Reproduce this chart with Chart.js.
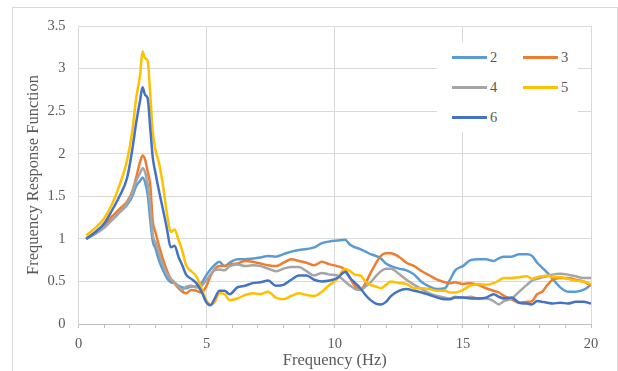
<!DOCTYPE html>
<html>
<head>
<meta charset="utf-8">
<script src="https://cdn.jsdelivr.net/npm/chart.js@4.4.1/dist/chart.umd.min.js"></script>
<style>
    body { margin: 0; background: #fff; }
    #wrap { position: relative; width: 618px; height: 371px; overflow: hidden; }
    #frame { position: absolute; left: 12px; top: 7px; width: 604px; height: 380px; border: 1px solid #d9d9d9; }
    #frfChart { position: absolute; left: 0; top: 0; }
    #legend {
        position: absolute; left: 437px; top: 42px; width: 141px; height: 90px;
        background: #fff; padding-left: 15px; box-sizing: border-box;
        display: grid; grid-template-columns: 71px 55px; grid-auto-rows: 30px;
        font-family: "Liberation Serif", serif; font-size: 14.5px; color: #595959;
    }
    .item { display: flex; align-items: center; }
    .swatch { width: 35px; height: 3px; margin-right: 3px; }
</style>
</head>
<body>
<div id="wrap">
    <div id="frame"></div>
    <canvas id="frfChart" width="618" height="371"></canvas>
    <div id="legend"></div>
</div>
<script>
// frequency (Hz) shared by all series
const freq = [
    0.3, 0.7, 1.0, 1.3, 1.6, 1.9, 2.1, 2.25, 2.4, 2.5,
    2.6, 2.7, 2.8, 2.9, 3.0, 3.15, 3.3, 3.45, 3.6, 3.75,
    3.9, 4.05, 4.2, 4.4, 4.6, 4.8, 5.0, 5.15, 5.3, 5.5,
    5.7, 5.9, 6.2, 6.5, 6.8, 7.1, 7.4, 7.7, 8.0, 8.3,
    8.6, 8.9, 9.2, 9.5, 9.8, 10.1, 10.4, 10.6, 10.8, 11.0,
    11.2, 11.4, 11.6, 11.8, 12.0, 12.2, 12.5, 12.8, 13.1, 13.4,
    13.7, 14.0, 14.3, 14.5, 14.7, 15.0, 15.3, 15.6, 15.9, 16.2,
    16.4, 16.6, 16.9, 17.2, 17.5, 17.7, 17.9, 18.1, 18.3, 18.5,
    18.8, 19.1, 19.4, 19.7, 20.0
];

const frf2 = [
    1.00, 1.07, 1.14, 1.22, 1.31, 1.40, 1.50, 1.62, 1.68, 1.72,
    1.66, 1.52, 1.22, 0.97, 0.89, 0.74, 0.63, 0.54, 0.49, 0.48,
    0.45, 0.43, 0.42, 0.44, 0.44, 0.48, 0.58, 0.64, 0.69, 0.73,
    0.68, 0.72, 0.76, 0.76, 0.77, 0.78, 0.80, 0.79, 0.82, 0.85,
    0.87, 0.88, 0.90, 0.95, 0.97, 0.98, 0.99, 0.93, 0.90, 0.88,
    0.85, 0.82, 0.80, 0.77, 0.71, 0.68, 0.65, 0.63, 0.58, 0.49,
    0.44, 0.41, 0.42, 0.52, 0.63, 0.68, 0.75, 0.76, 0.76, 0.74,
    0.77, 0.79, 0.79, 0.82, 0.82, 0.80, 0.72, 0.66, 0.60, 0.53,
    0.43, 0.38, 0.38, 0.40, 0.46
];

const frf3 = [
    1.00, 1.09, 1.16, 1.26, 1.35, 1.44, 1.56, 1.72, 1.90, 1.98,
    1.93, 1.79, 1.63, 1.20, 1.08, 0.91, 0.76, 0.63, 0.53, 0.48,
    0.42, 0.38, 0.36, 0.40, 0.39, 0.37, 0.45, 0.56, 0.64, 0.68,
    0.68, 0.70, 0.71, 0.74, 0.73, 0.71, 0.69, 0.68, 0.72, 0.76,
    0.74, 0.72, 0.69, 0.73, 0.70, 0.68, 0.64, 0.54, 0.44, 0.40,
    0.48, 0.60, 0.71, 0.80, 0.83, 0.83, 0.79, 0.72, 0.68, 0.62,
    0.57, 0.52, 0.49, 0.48, 0.49, 0.47, 0.48, 0.46, 0.42, 0.39,
    0.37, 0.33, 0.29, 0.25, 0.26, 0.27, 0.35, 0.38, 0.46, 0.52,
    0.54, 0.54, 0.52, 0.50, 0.45
];

const frf4 = [
    1.00, 1.07, 1.13, 1.22, 1.31, 1.42, 1.54, 1.68, 1.77, 1.83,
    1.78, 1.64, 1.38, 1.04, 0.96, 0.82, 0.69, 0.59, 0.53, 0.49,
    0.44, 0.40, 0.44, 0.45, 0.43, 0.45, 0.52, 0.58, 0.63, 0.64,
    0.63, 0.68, 0.70, 0.68, 0.69, 0.68, 0.65, 0.62, 0.65, 0.67,
    0.67, 0.62, 0.57, 0.60, 0.58, 0.57, 0.50, 0.45, 0.41, 0.40,
    0.44, 0.49, 0.56, 0.62, 0.65, 0.65, 0.59, 0.52, 0.46, 0.41,
    0.36, 0.33, 0.31, 0.30, 0.32, 0.31, 0.32, 0.30, 0.30, 0.27,
    0.23, 0.27, 0.30, 0.38, 0.46, 0.51, 0.53, 0.55, 0.56, 0.58,
    0.59, 0.58, 0.56, 0.54, 0.54
];

const frf5 = [
    1.04, 1.14, 1.24, 1.40, 1.63, 1.93, 2.27, 2.65, 2.92, 3.20,
    3.12, 3.09, 2.70, 2.25, 2.05, 1.88, 1.62, 1.30, 1.08, 1.11,
    0.99, 0.86, 0.69, 0.62, 0.56, 0.42, 0.27, 0.23, 0.25, 0.36,
    0.35, 0.28, 0.30, 0.34, 0.36, 0.35, 0.38, 0.31, 0.29, 0.33,
    0.36, 0.34, 0.33, 0.38, 0.46, 0.53, 0.65, 0.62, 0.58, 0.57,
    0.50, 0.46, 0.44, 0.42, 0.46, 0.50, 0.48, 0.47, 0.42, 0.42,
    0.41, 0.39, 0.39, 0.37, 0.37, 0.40, 0.45, 0.47, 0.46, 0.48,
    0.51, 0.54, 0.54, 0.55, 0.56, 0.53, 0.55, 0.56, 0.57, 0.55,
    0.55, 0.53, 0.51, 0.50, 0.47
];

const frf6 = [
    1.00, 1.09, 1.18, 1.33, 1.50, 1.72, 2.05, 2.36, 2.62, 2.78,
    2.69, 2.65, 2.30, 1.95, 1.78, 1.55, 1.34, 1.12, 0.90, 0.92,
    0.79, 0.69, 0.58, 0.53, 0.48, 0.38, 0.25, 0.22, 0.29, 0.39,
    0.39, 0.35, 0.43, 0.45, 0.48, 0.49, 0.51, 0.45, 0.46, 0.52,
    0.57, 0.57, 0.52, 0.50, 0.51, 0.54, 0.61, 0.54, 0.48, 0.42,
    0.34, 0.28, 0.24, 0.23, 0.26, 0.33, 0.39, 0.41, 0.39, 0.37,
    0.34, 0.31, 0.29, 0.29, 0.31, 0.31, 0.30, 0.30, 0.31, 0.35,
    0.32, 0.30, 0.31, 0.25, 0.24, 0.23, 0.27, 0.26, 0.25, 0.24,
    0.25, 0.24, 0.26, 0.26, 0.24
];

const seriesNames = ['2', '3', '4', '5', '6'];
const seriesValues = [frf2, frf3, frf4, frf5, frf6];
const seriesColors = ['#5B9BD5', '#ED7D31', '#A5A5A5', '#FFC000', '#4472C4'];

const textColor = '#595959';
Chart.defaults.font.family = '"Liberation Serif", "Times New Roman", serif';

const datasets = seriesNames.map((name, i) => ({
    label: name,
    data: freq.map((f, k) => ({ x: f, y: seriesValues[i][k] })),
    borderColor: seriesColors[i],
    backgroundColor: seriesColors[i],
    borderWidth: 2.5,
    pointRadius: 0,
    cubicInterpolationMode: 'monotone',
    borderJoinStyle: 'round',
    order: seriesNames.length - i   // later series drawn on top, like Excel
}));

new Chart(document.getElementById('frfChart'), {
    type: 'line',
    data: { datasets: datasets },
    options: {
        responsive: false,
        animation: false,
        layout: { padding: { top: 26, right: 27, bottom: 0, left: 0 } },
        plugins: {
            legend: { display: false },
            tooltip: { enabled: false }
        },
        scales: {
            x: {
                type: 'linear',
                min: 0,
                max: 20,
                afterFit: s => { s.height = 47; },
                ticks: {
                    stepSize: 1,
                    autoSkip: false,
                    maxRotation: 0,
                    padding: 7,
                    color: textColor,
                    font: { size: 14.5 },
                    callback: v => (v % 5 === 0 ? String(v) : '')
                },
                grid: {
                    color: c => (c.tick && c.tick.value % 5 === 0 && c.tick.value > 0) ? '#d9d9d9' : 'rgba(0,0,0,0)',
                    tickColor: '#bfbfbf',
                    tickLength: 4
                },
                border: { color: '#bfbfbf' },
                title: {
                    display: true,
                    text: 'Frequency (Hz)',
                    color: textColor,
                    font: { size: 16.5 },
                    padding: { top: 0, bottom: 0 }
                }
            },
            y: {
                min: 0,
                max: 3.5,
                afterFit: s => { s.width = 78.5; },
                ticks: {
                    stepSize: 0.5,
                    padding: 13,
                    color: textColor,
                    font: { size: 14.5 },
                    callback: v => String(v)
                },
                grid: { color: '#d9d9d9', drawTicks: false },
                border: { color: '#d9d9d9' },
                title: {
                    display: true,
                    text: 'Frequency Response Function',
                    color: textColor,
                    font: { size: 16.5 },
                    padding: { top: 24, bottom: 0 }
                }
            }
        }
    }
});

// legend in two columns inside the plot, like the original
const legendHtml = seriesNames.map((name, i) => `
    <div class="item">
        <span class="swatch" style="background-color: ${seriesColors[i]}"></span>
        <span>${name}</span>
    </div>`).join('');
document.getElementById('legend').innerHTML = legendHtml;
</script>
</body>
</html>
